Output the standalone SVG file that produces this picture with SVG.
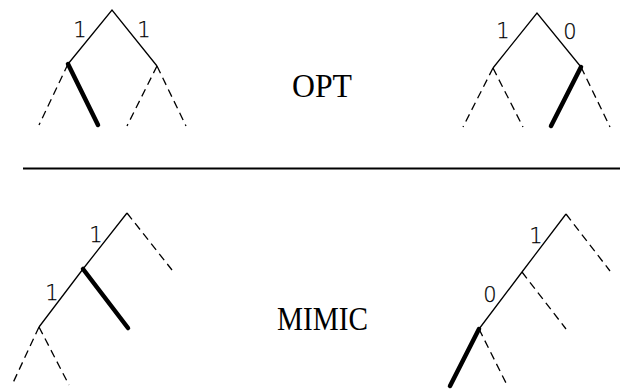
<svg xmlns="http://www.w3.org/2000/svg" width="620" height="390" viewBox="0 0 620 390">
<style>
.s{stroke:#000;stroke-width:1.3;fill:none}
.d{stroke:#000;stroke-width:1.3;fill:none;stroke-dasharray:8 5}
.t{stroke:#000;stroke-width:4.5;fill:none;stroke-linecap:round}
.l{font-family:"DejaVu Sans","Liberation Sans",Arial,sans-serif;font-weight:200;font-size:21px;fill:#000;stroke:#000;stroke-width:0.25;text-anchor:middle}
.b{font-family:"Liberation Serif","Times New Roman",serif;font-size:33px;fill:#000}
</style>
<rect width="620" height="390" fill="#fff"/>
<g id="tree-opt-left">
<polyline class="s" points="68,64 112,10 157,66"/>
<line class="d" x1="68" y1="64" x2="39" y2="125"/>
<line class="t" x1="68" y1="64" x2="98" y2="125"/>
<line class="d" x1="157" y1="66" x2="127" y2="126"/>
<line class="d" x1="157" y1="66" x2="186" y2="126"/>
<text class="l" x="80" y="37">1</text>
<text class="l" x="144" y="37">1</text>
</g>
<g id="tree-opt-right">
<polyline class="s" points="493,68 537,13 581,67"/>
<line class="d" x1="493" y1="68" x2="463" y2="127"/>
<line class="d" x1="493" y1="68" x2="523" y2="127"/>
<line class="t" x1="581" y1="67" x2="551" y2="126"/>
<line class="d" x1="581" y1="67" x2="610" y2="127"/>
<text class="l" x="503" y="38">1</text>
<text class="l" x="570" y="39">0</text>
</g>
<g id="label-opt"><text class="b" x="292" y="97" textLength="60" lengthAdjust="spacingAndGlyphs">OPT</text></g>
<g id="divider"><line x1="23" y1="168.5" x2="620" y2="168.5" stroke="#000" stroke-width="2.2"/></g>
<g id="tree-mimic-left">
<polyline class="s" points="39,327 83,269 127,213"/>
<line class="d" x1="127" y1="213" x2="172" y2="270"/>
<line class="t" x1="83" y1="269" x2="128" y2="328"/>
<line class="d" x1="39" y1="327" x2="12" y2="385"/>
<line class="d" x1="39" y1="327" x2="69" y2="385"/>
<text class="l" x="96" y="242">1</text>
<text class="l" x="52" y="300">1</text>
</g>
<g id="tree-mimic-right">
<polyline class="s" points="479,329 522,272 566,214"/>
<line class="d" x1="566" y1="214" x2="610" y2="271"/>
<line class="d" x1="522" y1="272" x2="566" y2="329"/>
<line class="t" x1="479" y1="329" x2="450" y2="386"/>
<line class="d" x1="479" y1="329" x2="508" y2="387"/>
<text class="l" x="536" y="243">1</text>
<text class="l" x="490" y="302">0</text>
</g>
<g id="label-mimic"><text class="b" x="277" y="330" textLength="91" lengthAdjust="spacingAndGlyphs">MIMIC</text></g>
</svg>
